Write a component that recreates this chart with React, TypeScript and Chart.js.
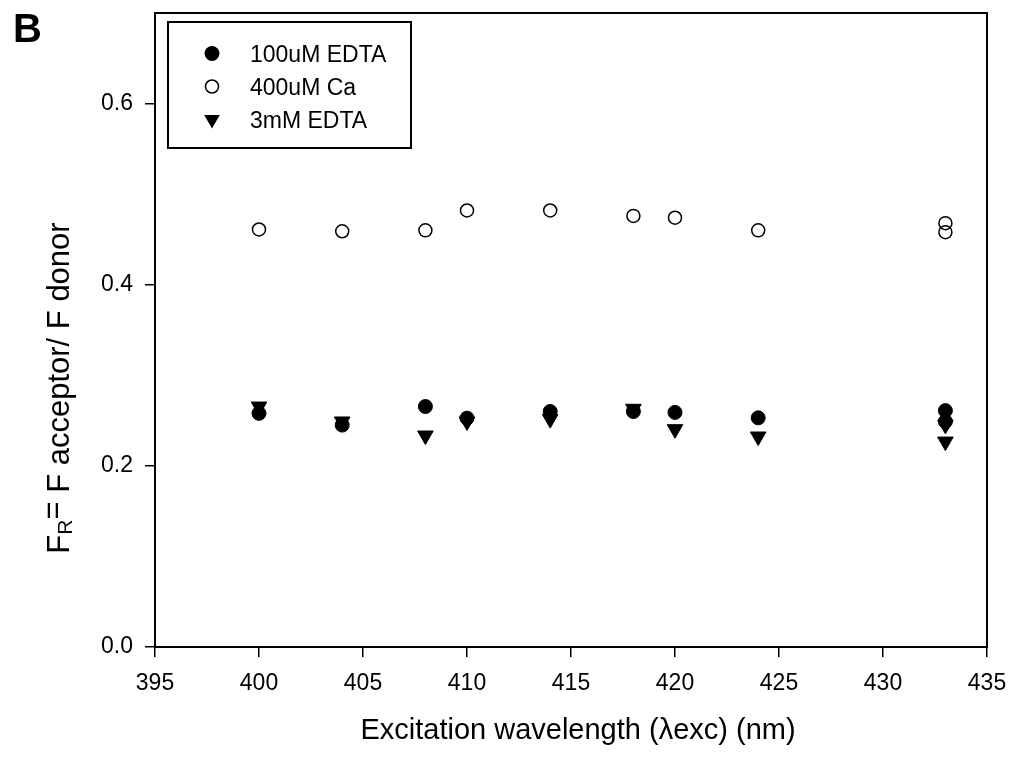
import React, { useEffect, useRef } from "react";
import { Chart, registerables } from "chart.js";

Chart.register(...registerables);

const wavelengths = [400, 404, 408, 410, 414, 418, 420, 424, 433, 433];
const edta100uM = [0.258, 0.245, 0.2655, 0.2527, 0.26, 0.26, 0.259, 0.253, 0.261, 0.249];
const ca400uM = [0.461, 0.459, 0.46, 0.482, 0.482, 0.476, 0.474, 0.46, 0.468, 0.458];
const edta3mM = [0.2655, 0.249, 0.2335, 0.249, 0.2516, 0.263, 0.2405, 0.2324, 0.2453, 0.2268];

const seriesLabels = ["100uM EDTA", "400uM Ca", "3mM EDTA"];
const xTicks = [395, 400, 405, 410, 415, 420, 425, 430, 435];
const yTicks = [0, 0.2, 0.4, 0.6];
const xTitle = "Excitation wavelength (\u03BBexc) (nm)";
const panelLabel = "B";

const FONT = "Arial, 'Liberation Sans', sans-serif";

const toPoints = (ys: number[]) => wavelengths.map((x, i) => ({ x, y: ys[i] }));

const decorPlugin = {
  id: "decor",
  afterDraw(chart: any) {
    const ctx = chart.ctx as CanvasRenderingContext2D;
    const { left, right, top, bottom } = chart.chartArea;
    ctx.save();
    // frame
    ctx.strokeStyle = "#000";
    ctx.lineWidth = 2;
    ctx.strokeRect(left, top, right - left, bottom - top);

    // panel label
    ctx.fillStyle = "#000";
    ctx.font = `bold 40px ${FONT}`;
    ctx.textAlign = "left";
    ctx.textBaseline = "alphabetic";
    ctx.fillText(panelLabel, 13, 42);

    // x title
    ctx.font = `29px ${FONT}`;
    ctx.textAlign = "center";
    ctx.fillText(xTitle, 578, 739);

    // y title with subscript
    ctx.save();
    ctx.translate(69, 388);
    ctx.rotate(-Math.PI / 2);
    ctx.textAlign = "left";
    const big = `31px ${FONT}`;
    const small = `21px ${FONT}`;
    const parts = [
      { t: "F", f: big, dy: 0 },
      { t: "R", f: small, dy: 3 },
      { t: "=", f: big, dy: -6 },
      { t: " F acceptor/ F donor", f: big, dy: 0 },
    ];
    let total = 0;
    for (const p of parts) {
      ctx.font = p.f;
      total += ctx.measureText(p.t).width;
    }
    let x = -total / 2;
    for (const p of parts) {
      ctx.font = p.f;
      ctx.fillText(p.t, x, p.dy);
      x += ctx.measureText(p.t).width;
    }
    ctx.restore();

    // legend
    ctx.lineWidth = 2;
    ctx.strokeRect(168, 22, 243, 126);
    const rows = [62, 95, 128];
    const mx = 212;
    ctx.font = `23px ${FONT}`;
    ctx.textAlign = "left";
    ctx.textBaseline = "alphabetic";
    seriesLabels.forEach((lab, i) => {
      const cy = rows[i] - 8.5;
      ctx.beginPath();
      if (i === 0) {
        ctx.arc(mx, cy, 7.5, 0, Math.PI * 2);
        ctx.fillStyle = "#000";
        ctx.fill();
      } else if (i === 1) {
        ctx.arc(mx, cy, 6.5, 0, Math.PI * 2);
        ctx.lineWidth = 1.5;
        ctx.stroke();
      } else {
        const r = 9;
        ctx.moveTo(mx, cy + r);
        ctx.lineTo(mx - r * 0.866, cy - r / 2);
        ctx.lineTo(mx + r * 0.866, cy - r / 2);
        ctx.closePath();
        ctx.fillStyle = "#000";
        ctx.fill();
      }
      ctx.fillStyle = "#000";
      ctx.fillText(lab, 250, rows[i]);
    });
    ctx.restore();
  },
};

export default function App() {
  const canvasRef = useRef<HTMLCanvasElement | null>(null);

  useEffect(() => {
    const canvas = canvasRef.current;
    if (!canvas) return;
    const chart = new Chart(canvas, {
      type: "scatter",
      data: {
        datasets: [
          {
            label: seriesLabels[0],
            data: toPoints(edta100uM),
            pointStyle: "circle",
            pointRadius: 7,
            borderWidth: 1,
            backgroundColor: "#000",
            borderColor: "#000",
          },
          {
            label: seriesLabels[1],
            data: toPoints(ca400uM),
            pointStyle: "circle",
            pointRadius: 6.5,
            borderWidth: 1.5,
            backgroundColor: "rgba(0,0,0,0)",
            borderColor: "#000",
          },
          {
            label: seriesLabels[2],
            data: toPoints(edta3mM),
            pointStyle: "triangle",
            pointRotation: 180,
            pointRadius: 9,
            borderWidth: 1,
            backgroundColor: "#000",
            borderColor: "#000",
          },
        ],
      },
      options: {
        responsive: false,
        animation: false,
        devicePixelRatio: 1,
        layout: { padding: { top: 13, right: 39, left: 0, bottom: 0 } },
        plugins: {
          legend: { display: false },
          tooltip: { enabled: false },
        },
        scales: {
          x: {
            type: "linear",
            min: 395,
            max: 435,
            afterBuildTicks: (scale: any) => {
              scale.ticks = xTicks.map((v) => ({ value: v }));
            },
            afterFit: (scale: any) => {
              scale.height = 112;
              scale.paddingLeft = 0;
              scale.paddingRight = 0;
            },
            grid: {
              display: true,
              drawOnChartArea: false,
              drawTicks: true,
              tickLength: 10,
              color: "#000",
              lineWidth: 1.5,
            },
            border: { display: true, color: "#000", width: 2 },
            ticks: {
              color: "#000",
              font: { family: FONT, size: 23 },
              padding: 13,
              maxRotation: 0,
              callback: (v: any) => String(v),
            },
          },
          y: {
            type: "linear",
            min: 0,
            max: 0.7,
            afterBuildTicks: (scale: any) => {
              scale.ticks = yTicks.map((v) => ({ value: v }));
            },
            afterFit: (scale: any) => {
              scale.width = 155;
              scale.paddingTop = 0;
              scale.paddingBottom = 0;
            },
            grid: {
              display: true,
              drawOnChartArea: false,
              drawTicks: true,
              tickLength: 10,
              color: "#000",
              lineWidth: 1.5,
            },
            border: { display: true, color: "#000", width: 2 },
            ticks: {
              color: "#000",
              font: { family: FONT, size: 23 },
              padding: 12,
              callback: (v: any) => Number(v).toFixed(1),
            },
          },
        },
      },
      plugins: [decorPlugin],
    });
    return () => chart.destroy();
  }, []);

  return (
    <div style={{ position: "absolute", left: 0, top: 0, width: 1026, height: 759, background: "#fff" }}>
      <canvas ref={canvasRef} width={1026} height={759} style={{ display: "block" }} />
    </div>
  );
}
